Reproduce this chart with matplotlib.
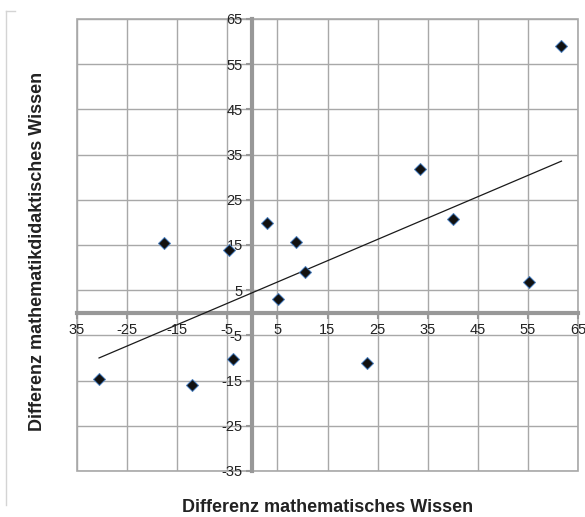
import numpy as np
import matplotlib.pyplot as plt
from matplotlib.lines import Line2D
from matplotlib.patches import Rectangle

plt.rcParams['font.family'] = ['Liberation Sans', 'DejaVu Sans']

# Differenz mathematisches Wissen (x) / Differenz mathematikdidaktisches Wissen (y)
diff_mathe = [-30.6, -17.6, -12.1, -4.7, -3.8, 2.9, 5.2, 8.8, 10.5, 22.9, 33.5, 40.0, 55.3, 61.7]
diff_didaktik = [-14.6, 15.5, -16.0, 13.8, -10.3, 19.8, 3.0, 15.6, 9.1, -11.0, 31.9, 20.7, 6.8, 59.1]

x_ticks = [-35, -25, -15, -5, 5, 15, 25, 35, 45, 55, 65]
x_tick_labels = ['35', '-25', '-15', '-5', '5', '15', '25', '35', '45', '55', '65']
y_ticks = [-35, -25, -15, -5, 5, 15, 25, 35, 45, 55, 65]
y_tick_labels = ['-35', '-25', '-15', '-5', '5', '15', '25', '35', '45', '55', '65']

W, H = 585, 517
fig = plt.figure(figsize=(W / 100, H / 100), dpi=100)
ax = fig.add_axes([77 / W, 1 - 471 / H, (578 - 77) / W, (471 - 19) / H])

grid_col = '#a8a8a8'
axis_col = '#989898'

ax.set_xlim(-35, 65)
ax.set_ylim(-35, 65)
ax.set_xticks(x_ticks)
ax.set_xticklabels(x_tick_labels)
ax.set_yticks(y_ticks)
ax.set_yticklabels(y_tick_labels)
ax.grid(True, color=grid_col, lw=1.0)
ax.set_axisbelow(True)

# axes cross at zero (Excel style)
ax.spines['left'].set_position(('data', 0))
ax.spines['bottom'].set_position(('data', 0))
for s in ('left', 'bottom'):
    ax.spines[s].set_color(axis_col)
    ax.spines[s].set_linewidth(3)
for s in ('top', 'right'):
    ax.spines[s].set_visible(False)
ax.add_patch(Rectangle((0, 0), 1, 1, transform=ax.transAxes, fill=False,
                       edgecolor=grid_col, lw=1.2, clip_on=False, zorder=0.5))
ax.tick_params(direction='out', length=4, width=1.5, color=axis_col,
               labelsize=10.5, labelcolor='#222222', pad=3)

# trendline (linear fit)
m, b = np.polyfit(diff_mathe, diff_didaktik, 1)
xs = np.array([min(diff_mathe), max(diff_mathe)])
ax.plot(xs, m * xs + b, color='#1a1a1a', lw=0.9, zorder=3)

ax.plot(diff_mathe, diff_didaktik, 'D', ms=6.5, color='#111111',
        mec='#4a7fc0', mew=0.7, ls='none', zorder=4, clip_on=False)

fig.text(328 / W, 1 - 508 / H, 'Differenz mathematisches Wissen',
         ha='center', va='center', fontsize=13, fontweight='bold', color='#222222')
fig.text(38 / W, 1 - 251 / H, 'Differenz mathematikdidaktisches Wissen',
         ha='center', va='center', rotation=90, fontsize=13, fontweight='bold',
         color='#222222')

# chart area border fragment
fig.add_artist(Line2D([6 / W, 6 / W], [1 - 11 / H, 1 - 505 / H], color='#d4d4d4', lw=1))
fig.add_artist(Line2D([6 / W, 15 / W], [1 - 11 / H, 1 - 11 / H], color='#d4d4d4', lw=1))

fig.savefig('out.png', dpi=100)
